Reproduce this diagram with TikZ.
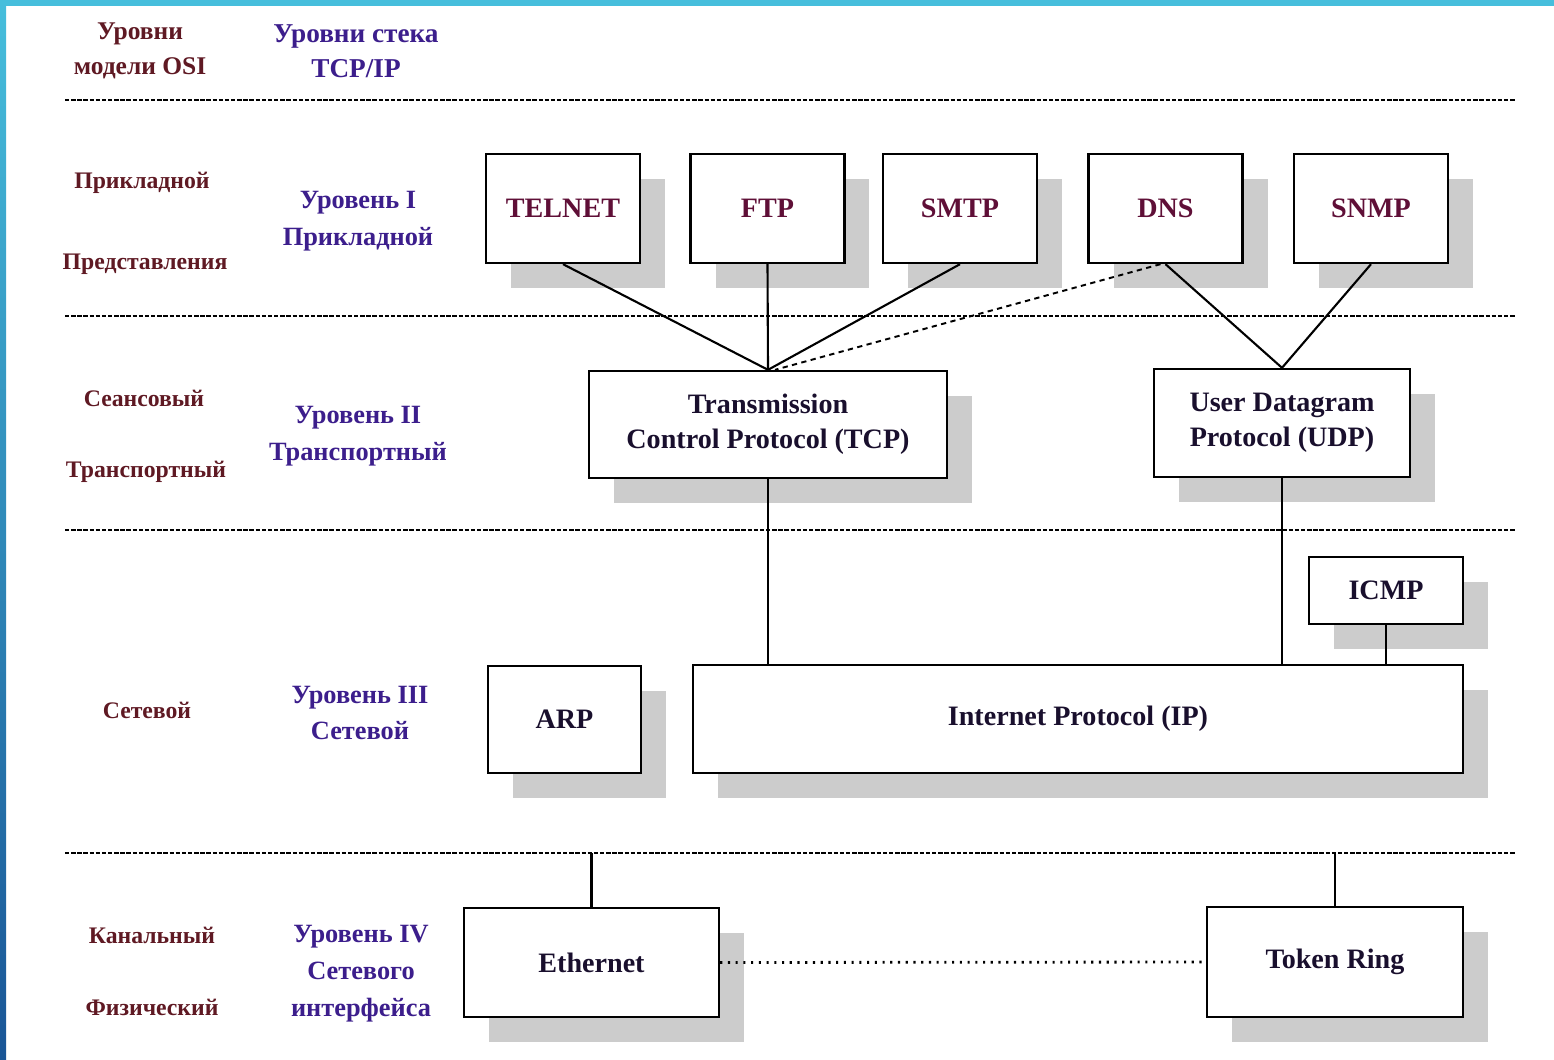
\documentclass[tikz,border=0pt]{standalone}
\usepackage{fontspec}
\setmainfont{Liberation Serif}
\usetikzlibrary{positioning,shadows}
\definecolor{osired}{RGB}{95,25,35}
\definecolor{stackblue}{RGB}{60,30,140}
\definecolor{appred}{RGB}{95,15,55}
\definecolor{boxink}{RGB}{25,15,45}
\definecolor{slidecyan}{RGB}{70,190,220}
\definecolor{slideblue}{RGB}{25,85,150}

\begin{document}
\begin{tikzpicture}[x=0.02cm,y=-0.02cm,
  box/.style={draw,line width=1.35pt,fill=white,inner sep=0pt,align=center,
    font=\fontsize{16}{20}\selectfont\bfseries,text=boxink,
    drop shadow={shadow xshift=0.5cm,shadow yshift=-0.5cm,fill=black!20,opacity=1}},
  app/.style={box,text=appred,minimum width=3.08cm,minimum height=2.18cm},
  osi/.style={font=\fontsize{13.5}{18}\selectfont\bfseries,text=osired},
  stack/.style={font=\fontsize{15}{21}\selectfont\bfseries,text=stackblue,align=center},
  link/.style={line width=1.2pt},
  sep/.style={line width=1pt,dash pattern=on 2.5pt off 1pt}]
\useasboundingbox (0,0) rectangle (1554,1060);
\fill[white] (0,0) rectangle (1554,1060);
\fill[slidecyan] (0,0) rectangle (1554,6);
\shade[top color=slidecyan,bottom color=slideblue] (0,0) rectangle (6,1060);

\foreach \y in {100,316,530,853}
  \draw[sep] (65,\y) -- (1515,\y);

\node[osi,align=center,font=\fontsize{14.5}{20}\selectfont\bfseries] (osihead) at (140,51) {Уровни\\модели OSI};
\node[stack,font=\fontsize{15.5}{20}\selectfont\bfseries] (stackhead) at (356,51) {Уровни стека\\TCP/IP};

\node[osi] (o7) at (142,183) {Прикладной};
\node[osi] (o6) at (145,264) {Представления};
\node[osi] (o5) at (144,398) {Сеансовый};
\node[osi] (o4) at (146,472) {Транспортный};
\node[osi] (o3) at (147,710) {Сетевой};
\node[osi] (o2) at (152,935) {Канальный};
\node[osi] (o1) at (152,1007) {Физический};

\node[stack] (s1) at (358,221) {Уровень I\\Прикладной};
\node[stack] (s2) at (358,436) {Уровень II\\Транспортный};
\node[stack] (s3) at (360,713) {Уровень III\\Сетевой};
\node[stack] (s4) at (361,974) {Уровень IV\\Сетевого\\интерфейса};

\node[app] (telnet) at (563,208.5) {TELNET};
\node[app] (ftp) at (767.5,208.5) {FTP};
\node[app] (smtp) at (960,208.5) {SMTP};
\node[app] (dns) at (1165.5,208.5) {DNS};
\node[app] (snmp) at (1371,208.5) {SNMP};

\node[box,minimum width=7.16cm,minimum height=2.14cm] (tcp) at (768,424.5) {Transmission\\Control Protocol (TCP)};
\node[box,minimum width=5.12cm,minimum height=2.16cm] (udp) at (1282,423) {User Datagram\\Protocol (UDP)};

\node[box,minimum width=3.08cm,minimum height=1.34cm] (icmp) at (1386,590.5) {ICMP};
\node[box,minimum width=3.06cm,minimum height=2.14cm] (arp) at (564.5,719.5) {ARP};
\node[box,minimum width=15.4cm,minimum height=2.16cm] (ip) at (1078,719) {Internet Protocol (IP)};

\node[box,minimum width=5.1cm,minimum height=2.18cm] (eth) at (591.5,962.5) {Ethernet};
\node[box,minimum width=5.12cm,minimum height=2.2cm] (ring) at (1335,962) {Token Ring};

\coordinate (ethtop) at (591.5,853);
\coordinate (ringtop) at (1335,853);

\draw[link] (telnet.south) -- (tcp.north);
\draw[link] (ftp.south) -- (tcp.north);
\draw[link] (smtp.south) -- (tcp.north);
\draw[line width=1.1pt,dash pattern=on 3pt off 2.5pt] ([xshift=-0.1cm]dns.south) -- ([xshift=0.14cm]tcp.north);
\draw[link] (dns.south) -- (udp.north);
\draw[link] (snmp.south) -- (udp.north);
\draw[link] (tcp.south) -- (tcp.south |- ip.north);
\draw[link] (udp.south) -- (udp.south |- ip.north);
\draw[link] (icmp.south) -- (icmp.south |- ip.north);
\draw[link] (eth.north) -- (ethtop);
\draw[link] (ring.north) -- (ringtop);
\draw[line width=1.6pt,dash pattern=on 1.2pt off 3.2pt] (eth.east) -- (ring.west);
\end{tikzpicture}
\end{document}
